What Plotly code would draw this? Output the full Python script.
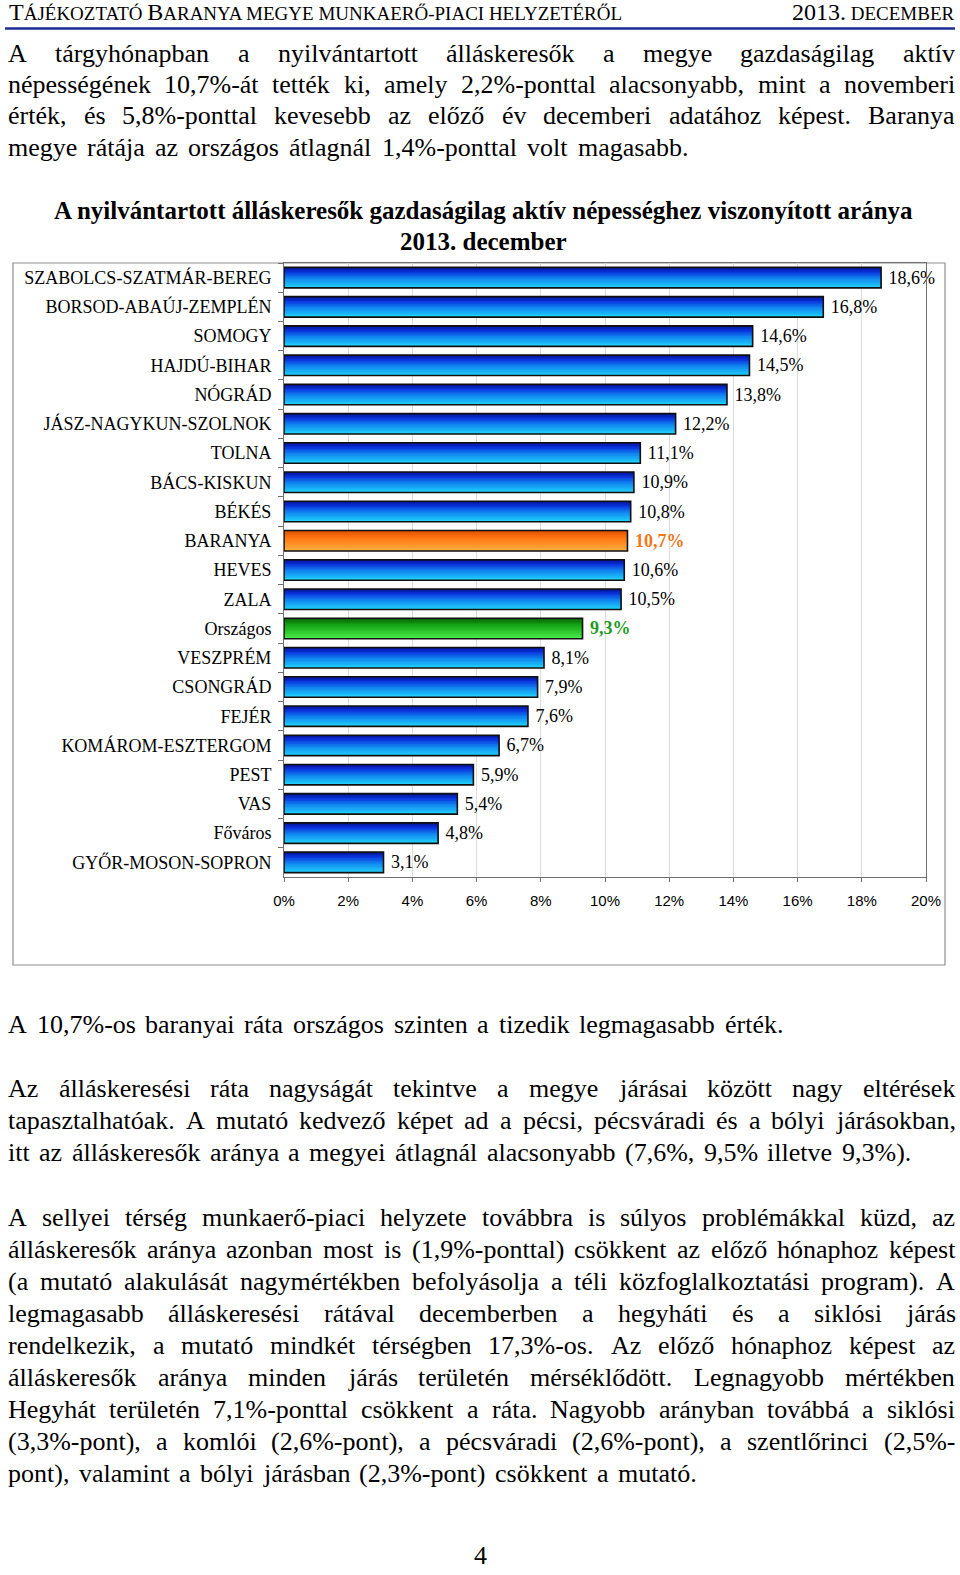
import unicodedata
import plotly.graph_objects as go

# ---------------- data ----------------
categories = ["SZABOLCS-SZATMÁR-BEREG", "BORSOD-ABAÚJ-ZEMPLÉN", "SOMOGY", "HAJDÚ-BIHAR",
              "NÓGRÁD", "JÁSZ-NAGYKUN-SZOLNOK", "TOLNA", "BÁCS-KISKUN", "BÉKÉS", "BARANYA",
              "HEVES", "ZALA", "Országos", "VESZPRÉM", "CSONGRÁD", "FEJÉR",
              "KOMÁROM-ESZTERGOM", "PEST", "VAS", "Főváros", "GYŐR-MOSON-SOPRON"]
rates = [18.6, 16.8, 14.6, 14.5, 13.8, 12.2, 11.1, 10.9, 10.8, 10.7,
         10.6, 10.5, 9.3, 8.1, 7.9, 7.6, 6.7, 5.9, 5.4, 4.8, 3.1]
highlight_county = "BARANYA"
highlight_national = "Országos"
x_ticks = [0, 2, 4, 6, 8, 10, 12, 14, 16, 18, 20]
x_tick_labels = [f"{t}%" for t in x_ticks]

title_lines = ["A nyilvántartott álláskeresők gazdaságilag aktív népességhez viszonyított aránya",
               "2013. december"]

para1 = ["A tárgyhónapban a nyilvántartott álláskeresők a megye gazdaságilag aktív",
         "népességének 10,7%-át tették ki, amely 2,2%-ponttal alacsonyabb, mint a novemberi",
         "érték, és 5,8%-ponttal kevesebb az előző év decemberi adatához képest. Baranya",
         "megye rátája az országos átlagnál 1,4%-ponttal volt magasabb."]
para2 = ["A 10,7%-os baranyai ráta országos szinten a tizedik legmagasabb érték."]
para3 = ["Az álláskeresési ráta nagyságát tekintve a megye járásai között nagy eltérések",
         "tapasztalhatóak. A mutató kedvező képet ad a pécsi, pécsváradi és a bólyi járásokban,",
         "itt az álláskeresők aránya a megyei átlagnál alacsonyabb (7,6%, 9,5% illetve 9,3%)."]
para4 = ["A sellyei térség munkaerő-piaci helyzete továbbra is súlyos problémákkal küzd, az",
         "álláskeresők aránya azonban most is (1,9%-ponttal) csökkent az előző hónaphoz képest",
         "(a mutató alakulását nagymértékben befolyásolja a téli közfoglalkoztatási program). A",
         "legmagasabb álláskeresési rátával decemberben a hegyháti és a siklósi járás",
         "rendelkezik, a mutató mindkét térségben 17,3%-os. Az előző hónaphoz képest az",
         "álláskeresők aránya minden járás területén mérséklődött. Legnagyobb mértékben",
         "Hegyhát területén 7,1%-ponttal csökkent a ráta. Nagyobb arányban továbbá a siklósi",
         "(3,3%-pont), a komlói (2,6%-pont), a pécsváradi (2,6%-pont), a szentlőrinci (2,5%-",
         "pont), valamint a bólyi járásban (2,3%-pont) csökkent a mutató."]

# ---------------- page geometry ----------------
PW, PH = 960, 1575
def fx(x): return x / PW
def fy(y): return 1 - y / PH

SERIF = "Liberation Serif, Times New Roman, serif"
SANS = "Liberation Sans, Arial, sans-serif"

# Times-compatible advance widths (1/1000 em)
TW = {' ': 250, 'a': 444, 'b': 500, 'c': 444, 'd': 500, 'e': 444, 'f': 333, 'g': 500, 'h': 500,
      'i': 278, 'j': 278, 'k': 500, 'l': 278, 'm': 778, 'n': 500, 'o': 500, 'p': 500, 'q': 500,
      'r': 333, 's': 389, 't': 278, 'u': 500, 'v': 500, 'w': 722, 'x': 500, 'y': 500, 'z': 444,
      'A': 722, 'B': 667, 'C': 667, 'D': 722, 'E': 611, 'F': 556, 'G': 722, 'H': 722, 'I': 333,
      'J': 389, 'K': 722, 'L': 611, 'M': 889, 'N': 722, 'O': 722, 'P': 556, 'Q': 722, 'R': 667,
      'S': 556, 'T': 611, 'U': 722, 'V': 722, 'W': 944, 'X': 722, 'Y': 722, 'Z': 611,
      '.': 250, ',': 250, '%': 833, '-': 333, '(': 333, ')': 333, ':': 278}
for d in "0123456789":
    TW[d] = 500

def units(s):
    tot = 0
    for ch in s:
        base = unicodedata.normalize("NFD", ch)[0]
        tot += TW.get(base, 500)
    return tot

annotations = []

def add(text, x, y, size, xanchor="left", family=SERIF, color="black"):
    annotations.append(dict(text=text, x=fx(x), y=fy(y), xref="paper", yref="paper",
                            xanchor=xanchor, yanchor="middle", showarrow=False,
                            font=dict(family=family, size=size, color=color)))

FS = 26
LEFT, RIGHT = 6, 953

def justified(line, y, end=RIGHT, fs=FS):
    words = line.split(" ")
    ws = [units(w) * fs / 1000 for w in words]
    if len(words) == 1:
        add(line, LEFT, y, fs)
        return
    gap = (end - LEFT - sum(ws)) / (len(words) - 1)
    x = LEFT
    for w, wd in zip(words, ws):
        add(w, x, y, fs)
        x += wd + gap

# paragraph 1
p1_y = [53, 84, 116, 147]
p1_end = [RIGHT, RIGHT, RIGHT, 686]
for t, y, e in zip(para1, p1_y, p1_end):
    justified(t, y, e)
# paragraph 2
justified(para2[0], 1024, 781)
# paragraph 3
p3_y = [1088, 1120, 1152]
p3_end = [RIGHT, RIGHT, 909]
for t, y, e in zip(para3, p3_y, p3_end):
    justified(t, y, e)
# paragraph 4
p4_y = [1217, 1249, 1281, 1313, 1345, 1377, 1409, 1441, 1473]
p4_end = [RIGHT] * 8 + [695]
for t, y, e in zip(para4, p4_y, p4_end):
    justified(t, y, e)

# page number
add("4", 480, 1555, 26, xanchor="center")

# header (small caps imitation)
hb, hs = 24, 19
header_left = (f"<span style='font-size:{hb}px'>T</span>ÁJÉKOZTATÓ "
               f"<span style='font-size:{hb}px'>B</span>ARANYA MEGYE MUNKAERŐ-PIACI HELYZETÉRŐL")
add(header_left, 7, 12, hs)
header_right = f"<span style='font-size:{hb}px'>2013.</span> DECEMBER"
add(header_right, 957, 12, hs, xanchor="right")

# chart title
add(f"<b>{title_lines[0]}</b>", 483, 211, 25, xanchor="center")
add(f"<b>{title_lines[1]}</b>", 483, 242, 25, xanchor="center")

# ---------------- bars ----------------
def hex2rgb(h):
    h = h.lstrip('#')
    return tuple(int(h[i:i + 2], 16) for i in (0, 2, 4))

def interp(stops, t):
    for (t0, c0), (t1, c1) in zip(stops[:-1], stops[1:]):
        if t0 <= t <= t1:
            a = (t - t0) / (t1 - t0) if t1 > t0 else 0
            r0, g0, b0 = hex2rgb(c0)
            r1, g1, b1 = hex2rgb(c1)
            return "rgb(%d,%d,%d)" % (r0 + (r1 - r0) * a, g0 + (g1 - g0) * a, b0 + (b1 - b0) * a)
    return stops[-1][1]

blue_stops = [(0, '#06128e'), (0.22, '#0a32de'), (0.55, '#1288f0'), (1, '#20d4fb')]
orange_stops = [(0, '#d85200'), (0.3, '#ff7010'), (1, '#ffb040')]
green_stops = [(0, '#066406'), (0.3, '#12a012'), (1, '#4cee4c')]

def stops_for(c):
    if c == highlight_county:
        return orange_stops
    if c == highlight_national:
        return green_stops
    return blue_stops

fig = go.Figure()
BW = 0.70
NS = 14
for i in range(NS):
    t = (i + 0.5) / NS
    off = -BW / 2 + i * BW / NS
    fig.add_trace(go.Bar(
        y=categories, x=rates, orientation="h",
        offset=off, width=BW - i * BW / NS,
        marker=dict(color=[interp(stops_for(c), t) for c in categories], line=dict(width=0)),
        hoverinfo="skip", showlegend=False))

label_text = []
label_color = []
for c, v in zip(categories, rates):
    s = "\u00a0" + f"{v:.1f}".replace(".", ",") + "%"
    if c == highlight_county:
        label_text.append(f"<b>{s}</b>")
        label_color.append("#f07818")
    elif c == highlight_national:
        label_text.append(f"<b>{s}</b>")
        label_color.append("#1f9a1f")
    else:
        label_text.append(s)
        label_color.append("black")

fig.add_trace(go.Bar(
    y=categories, x=rates, orientation="h", offset=-BW / 2, width=BW,
    marker=dict(color="rgba(0,0,0,0)", line=dict(color="#101010", width=1.6)),
    text=label_text, textposition="outside", cliponaxis=False, constraintext="none",
    textfont=dict(family=SERIF, size=18, color=label_color),
    showlegend=False, hoverinfo="skip"))

# chart frame + header rule
shapes = [
    dict(type="rect", xref="paper", yref="paper", x0=fx(13), x1=fx(945), y0=fy(965), y1=fy(263),
         line=dict(color="#8f8f8f", width=1.2), layer="below"),
    dict(type="line", xref="paper", yref="paper", x0=fx(5), x1=fx(955), y0=fy(28.5), y1=fy(28.5),
         line=dict(color="#1d2b94", width=2.5)),
]

fig.update_layout(
    width=PW, height=PH, margin=dict(l=0, r=0, t=0, b=0, autoexpand=False),
    paper_bgcolor="white", plot_bgcolor="white",
    barmode="overlay", bargap=0.3,
    annotations=annotations, shapes=shapes,
    font=dict(family=SERIF, color="black"),
    xaxis=dict(domain=[fx(284), fx(926)], range=[0, 20], tickvals=x_ticks, ticktext=x_tick_labels,
               showgrid=True, gridcolor="#dcdcdc", gridwidth=1, zeroline=False,
               showline=True, linecolor="#707070", linewidth=1, mirror=True,
               ticks="outside", ticklen=4, tickcolor="#707070",
               tickfont=dict(family=SANS, size=15, color="black"), ticklabelstandoff=6,
               anchor="y", automargin=False),
    yaxis=dict(domain=[fy(877), fy(263)], autorange="reversed", type="category",
               showgrid=False, showline=True, linecolor="#707070", linewidth=1, mirror=True,
               ticks="outside", tickson="boundaries", ticklen=5, tickcolor="#707070",
               tickfont=dict(family=SERIF, size=18, color="black"), ticklabelstandoff=8,
               anchor="x", automargin=False),
)

fig.write_html("out.html", config={"displayModeBar": False},
               post_script="document.body.style.margin='0';document.body.style.overflow='hidden';")
